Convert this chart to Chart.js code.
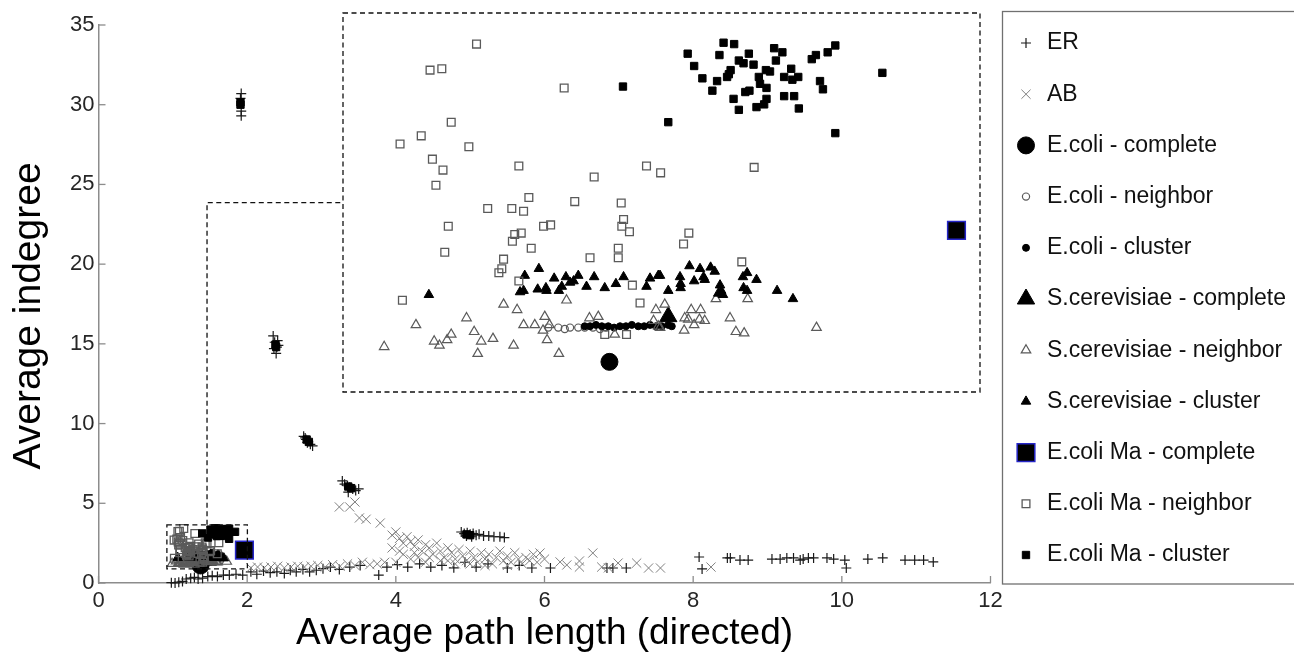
<!DOCTYPE html>
<html>
<head>
<meta charset="utf-8">
<script src="https://cdn.jsdelivr.net/npm/chart.js@4.4.1/dist/chart.umd.min.js"></script>
<style>
  html, body { margin:0; padding:0; background:#fff; }
  #wrap { position:relative; width:1294px; height:660px; overflow:hidden; }
  #main { position:absolute; left:0; top:0; }
  #inset { position:absolute; left:343px; top:13px; }
</style>
</head>
<body>
<div id="wrap">
  <canvas id="main" width="1294" height="660"></canvas>
  <canvas id="inset" width="637" height="379"></canvas>
</div>
<script>
const FONT = "'Liberation Sans', Arial, sans-serif";

const xTicks = [0, 2, 4, 6, 8, 10, 12];
const yTicks = [0, 5, 10, 15, 20, 25, 30, 35];
const yTitle = 'Average indegree';
const xTitle = 'Average path length (directed)';

// region that the inset enlarges
const zoomX = [0.92, 2.003];
const zoomY = [0.88, 3.647];
const connectX = 1.46;
const connectY = 23.86;

const seriesLabels = ['ER', 'AB', 'E.coli - complete', 'E.coli - neighbor', 'E.coli - cluster',
  'S.cerevisiae - complete', 'S.cerevisiae - neighbor', 'S.cerevisiae - cluster',
  'E.coli Ma - complete', 'E.coli Ma - neighbor', 'E.coli Ma - cluster'];

// [path length, indegree]
const erPts = [
  [1.92,30.7],[1.91,30.4],[1.92,29.6],[1.92,29.3],
  [2.35,15.5],[2.37,15.1],[2.40,14.8],[2.39,14.4],[2.42,14.9],[2.36,14.7],[2.41,15.2],
  [2.76,9.2],[2.79,9.0],[2.82,8.9],[2.85,8.7],[2.78,9.1],[2.88,8.6],[2.81,8.8],
  [3.28,6.4],[3.31,6.2],[3.35,6.1],[3.38,6.0],[3.42,5.9],[3.46,5.8],[3.50,5.9],[3.36,5.7],
  [4.88,3.2],[4.92,3.1],[4.96,3.15],[5.00,3.05],[5.04,3.1],[5.08,3.0],[5.12,3.05],[5.18,2.95],
  [5.25,2.95],[5.32,2.9],[5.40,2.9],[5.46,2.85],[4.95,2.95],[5.02,2.9],
  [0.98,0.02],[1.03,0.0],[1.08,0.05],[1.13,0.1],[1.18,0.25],[1.24,0.3],[1.29,0.35],[1.34,0.25],
  [1.40,0.3],[1.47,0.4],[1.53,0.45],[1.60,0.4],[1.68,0.5],[1.76,0.5],[1.85,0.55],[1.94,0.5],
  [2.05,0.7],[2.13,0.55],[2.22,0.75],[2.31,0.65],[2.40,0.7],[2.50,0.6],[2.58,0.8],[2.66,0.7],
  [2.75,0.85],[2.84,0.7],[2.93,0.8],[3.02,0.9],
  [3.12,1.0],[3.24,0.85],[3.38,1.0],[3.52,1.1],[3.77,0.5],[3.88,1.0],[4.02,1.15],[4.16,1.0],
  [4.32,1.2],[4.47,1.0],[4.62,1.1],[4.78,0.95],[4.93,1.3],[5.08,1.0],[5.24,1.2],
  [5.50,0.94],[5.66,1.1],[5.83,0.94],[6.08,0.94],[6.84,0.94],[6.92,0.94],[7.10,0.94],
  [8.08,1.63],[8.12,0.88],[8.46,1.57],[8.50,1.57],[8.63,1.44],[8.74,1.44],[9.06,1.5],[9.17,1.5],
  [9.26,1.57],[9.35,1.57],[9.44,1.44],[9.48,1.5],[9.55,1.57],[9.62,1.57],[9.80,1.57],[9.89,1.5],
  [10.04,1.44],[10.06,0.94],[10.35,1.5],[10.55,1.57],[10.85,1.44],[10.98,1.44],[11.10,1.44],[11.23,1.32]
];

const abPts = [
  [2.05,0.95],[2.14,1.0],[2.23,0.95],[2.32,1.0],[2.41,1.05],[2.50,0.95],[2.59,1.0],[2.68,1.05],
  [2.77,1.0],[2.86,1.05],[2.95,1.1],[3.05,1.0],[3.15,1.15],[3.25,1.05],[3.35,1.2],[3.45,1.1],
  [3.55,1.3],[3.65,1.15],[3.75,1.2],[3.85,1.3],
  [3.24,4.77],[3.38,4.77],[3.45,5.08],[3.51,4.08],[3.60,4.0],[3.79,3.76],
  [3.95,3.0],[4.00,3.2],[4.05,2.8],[4.10,2.5],[4.15,2.9],[4.20,2.6],[4.25,2.3],[4.30,2.7],
  [4.35,2.0],[4.40,2.4],[4.45,2.2],[4.50,1.8],[4.55,2.5],[4.60,2.0],[4.65,1.6],[4.70,2.2],
  [4.75,1.9],[4.80,1.5],[4.85,2.1],[4.90,1.7],[4.95,1.4],[5.00,2.0],[5.05,1.6],[5.10,1.3],
  [5.15,1.9],[5.20,1.5],[5.25,1.8],[5.30,1.2],[5.35,1.6],[5.40,2.0],[5.45,1.4],[5.50,1.7],
  [5.55,1.3],[5.60,1.9],[5.65,1.5],[5.70,1.2],[5.75,1.6],[5.80,1.4],[5.85,1.8],[5.90,1.3],
  [5.94,1.88],[6.00,1.5],[4.00,1.3],[4.20,1.5],[4.40,1.3],[4.60,1.4],[4.80,1.2],[3.95,2.2],
  [4.10,1.8],[4.30,1.6],[4.05,2.0],[4.25,1.9],[4.45,1.6],[4.70,1.4],[5.00,1.2],[5.20,1.1],[5.50,1.1],
  [6.21,1.32],[6.30,1.13],[6.47,1.38],[6.47,1.0],[6.65,1.88],[6.77,1.0],[6.86,0.95],[6.99,1.25],
  [7.24,1.25],[7.40,0.94],[7.56,0.94],[8.24,1.0]
];

const ecoliComplete = [[1.373,1.10]];
const ecoliNeighbor = [[1.269,1.35],[1.286,1.35],[1.297,1.34],[1.306,1.35],[1.320,1.35],
  [1.331,1.35],[1.345,1.35],[1.357,1.34],[1.367,1.35]];
const ecoliCluster = [[1.331,1.36],[1.340,1.36],[1.350,1.37],[1.360,1.36],[1.371,1.36],[1.381,1.35],
  [1.391,1.36],[1.401,1.36],[1.411,1.37],[1.422,1.36],[1.432,1.36],[1.442,1.37],[1.452,1.36],
  [1.462,1.36],[1.473,1.37],[1.479,1.36]];

const scerComplete = [[1.473,1.43]];
const scerNeighbor = [
  [0.990,1.21],[1.044,1.37],[1.075,1.25],[1.084,1.22],[1.097,1.26],[1.104,1.30],[1.130,1.42],
  [1.143,1.32],[1.155,1.25],[1.149,1.16],[1.175,1.27],[1.193,1.52],[1.210,1.22],[1.216,1.48],
  [1.227,1.37],[1.246,1.37],[1.260,1.33],[1.263,1.43],[1.267,1.26],[1.271,1.37],[1.287,1.16],
  [1.300,1.55],[1.339,1.42],[1.354,1.43],[1.382,1.30],[1.448,1.40],[1.452,1.48],[1.456,1.36],
  [1.467,1.52],[1.459,1.35],[1.500,1.33],[1.501,1.42],[1.512,1.48],[1.528,1.48],[1.507,1.41],
  [1.517,1.37],[1.526,1.41],[1.535,1.40],[1.554,1.56],[1.578,1.42],[1.588,1.32],[1.602,1.31],
  [1.608,1.56],[1.725,1.35]
];
const scerCluster = [
  [1.066,1.59],[1.229,1.73],[1.253,1.78],[1.221,1.61],[1.227,1.62],[1.251,1.63],[1.265,1.64],
  [1.266,1.62],[1.279,1.71],[1.287,1.62],[1.292,1.65],[1.299,1.72],[1.306,1.68],[1.312,1.69],
  [1.320,1.73],[1.334,1.65],[1.347,1.72],[1.365,1.64],[1.384,1.67],[1.397,1.72],[1.436,1.65],
  [1.442,1.71],[1.456,1.73],[1.473,1.62],[1.459,1.73],[1.493,1.72],[1.494,1.67],[1.494,1.64],
  [1.509,1.80],[1.517,1.69],[1.527,1.78],[1.533,1.72],[1.535,1.70],[1.545,1.79],[1.552,1.76],
  [1.561,1.66],[1.563,1.62],[1.558,1.60],[1.566,1.59],[1.600,1.72],[1.607,1.75],[1.601,1.64],
  [1.607,1.62],[1.623,1.70],[1.658,1.62],[1.685,1.56]
];

const maComplete = [[1.963,2.06]];
const maNeighbor = [
  [1.147,3.42],[1.068,3.23],[1.088,3.24],[1.296,3.10],[1.104,2.85],[1.053,2.75],[1.017,2.69],
  [1.134,2.67],[1.072,2.58],[1.090,2.50],[1.219,2.53],[1.347,2.45],[1.436,2.53],[1.460,2.48],
  [1.078,2.39],[1.236,2.30],[1.314,2.27],[1.393,2.26],[1.166,2.22],[1.207,2.22],[1.227,2.20],
  [1.099,2.09],[1.261,2.09],[1.273,2.10],[1.397,2.14],[1.394,2.09],[1.407,2.05],[1.212,2.03],
  [1.223,2.04],[1.208,1.98],[1.240,1.93],[1.093,1.90],[1.388,1.93],[1.388,1.86],[1.340,1.86],
  [1.193,1.85],[1.190,1.78],[1.185,1.75],[1.219,1.69],[1.412,1.66],[1.021,1.55],[1.425,1.53],
  [1.508,2.04],[1.499,1.96],[1.598,1.83],[1.619,2.52],[1.365,1.30],[1.402,1.30]
];
const maCluster = [
  [1.396,3.11],[1.473,2.85],[1.506,3.35],[1.567,3.43],[1.585,3.42],[1.517,3.26],[1.560,3.34],
  [1.531,3.17],[1.610,3.35],[1.593,3.30],[1.601,3.28],[1.618,3.27],[1.579,3.23],[1.576,3.20],
  [1.573,3.18],[1.556,3.15],[1.548,3.08],[1.627,3.18],[1.629,3.13],[1.640,3.10],[1.639,3.23],
  [1.646,3.22],[1.653,3.39],[1.667,3.36],[1.656,3.30],[1.682,3.24],[1.670,3.18],[1.684,3.16],
  [1.694,3.18],[1.604,3.07],[1.611,3.08],[1.584,3.02],[1.593,2.94],[1.640,3.02],[1.623,2.96],
  [1.636,2.98],[1.670,3.04],[1.687,3.04],[1.695,2.95],[1.717,3.31],[1.724,3.34],[1.744,3.36],
  [1.757,3.41],[1.731,3.15],[1.736,3.09],[1.837,3.21],[1.757,2.77],
  [1.91,30.0],[1.91,30.15],[2.38,14.95],[2.39,14.8],[2.80,9.0],[2.83,8.85],[3.36,6.05],
  [3.40,5.95],[4.95,3.05],[5.00,3.0]
];

const seriesData = [erPts, abPts, ecoliComplete, ecoliNeighbor, ecoliCluster,
  scerComplete, scerNeighbor, scerCluster, maComplete, maNeighbor, maCluster];

// marker look per series
const seriesStyle = [
  { shape: 'cross',    r: 5,   fill: '#1a1a1a', line: '#1a1a1a', w: 1.2 },
  { shape: 'crossRot', r: 6.5, fill: '#808080', line: '#808080', w: 1 },
  { shape: 'circle',   r: 8.5, fill: '#000',    line: '#000',    w: 1 },
  { shape: 'circle',   r: 3.6, fill: 'rgba(0,0,0,0)', line: '#5a5a5a', w: 1.2 },
  { shape: 'circle',   r: 3.5, fill: '#000',    line: '#000',    w: 1 },
  { shape: 'triangle', r: 10,  fill: '#000',    line: '#000',    w: 1 },
  { shape: 'triangle', r: 5.5, fill: 'rgba(0,0,0,0)', line: '#5a5a5a', w: 1.2 },
  { shape: 'triangle', r: 5.5, fill: '#000',    line: '#000',    w: 1 },
  { shape: 'rect',     r: 12.5, fill: '#000',   line: '#2626c8', w: 1.5 },
  { shape: 'rect',     r: 5.5, fill: 'rgba(0,0,0,0)', line: '#5a5a5a', w: 1.3 },
  { shape: 'rect',     r: 5.2, fill: '#000',    line: '#000',    w: 1 }
];

const makeDataset = (i) => ({
  label: seriesLabels[i],
  data: seriesData[i].map(p => ({ x: p[0], y: p[1] })),
  pointStyle: seriesStyle[i].shape,
  pointRadius: seriesStyle[i].r,
  backgroundColor: seriesStyle[i].fill,
  borderColor: seriesStyle[i].line,
  pointBorderWidth: seriesStyle[i].w,
  order: 20 - i,
  clip: false
});

const INSET = { left: 343, top: 13, width: 637, height: 379 };

const decor = {
  id: 'decor',
  afterDraw(chart) {
    const ctx = chart.ctx, xs = chart.scales.x, ys = chart.scales.y;
    ctx.save();
    // ticks pointing inward
    ctx.strokeStyle = '#8c8c8c';
    ctx.lineWidth = 1.3;
    xTicks.forEach(v => {
      const p = xs.getPixelForValue(v);
      ctx.beginPath(); ctx.moveTo(p, ys.bottom); ctx.lineTo(p, ys.bottom - 7); ctx.stroke();
    });
    yTicks.forEach(v => {
      const p = ys.getPixelForValue(v);
      ctx.beginPath(); ctx.moveTo(xs.left, p); ctx.lineTo(xs.left + 7, p); ctx.stroke();
    });

    // y axis title, a little below the middle of the axis as in the original
    ctx.save();
    ctx.translate(29, 316);
    ctx.rotate(-Math.PI / 2);
    ctx.fillStyle = '#000';
    ctx.font = '39px ' + FONT;
    ctx.textAlign = 'center';
    ctx.textBaseline = 'middle';
    ctx.fillText(yTitle, 0, 0);
    ctx.restore();

    // zoom box, connector and inset frame
    ctx.strokeStyle = '#111';
    ctx.lineWidth = 1.3;
    ctx.setLineDash([5, 3.5]);
    const bx0 = xs.getPixelForValue(zoomX[0]), bx1 = xs.getPixelForValue(zoomX[1]);
    const by0 = ys.getPixelForValue(zoomY[1]), by1 = ys.getPixelForValue(zoomY[0]);
    ctx.strokeRect(bx0, by0, bx1 - bx0, by1 - by0);
    const cx = xs.getPixelForValue(connectX), cy = ys.getPixelForValue(connectY);
    ctx.beginPath();
    ctx.moveTo(cx, by0); ctx.lineTo(cx, cy); ctx.lineTo(INSET.left, cy);
    ctx.stroke();
    ctx.strokeRect(INSET.left, INSET.top, INSET.width, INSET.height);
    ctx.setLineDash([]);

    // legend
    ctx.strokeStyle = '#707070';
    ctx.lineWidth = 1.3;
    ctx.strokeRect(1002.5, 11.5, 330, 572.5);
    chart.data.datasets.forEach((ds, i) => {
      const y = 43 + i * 51.2;
      const st = seriesStyle[i];
      ctx.fillStyle = st.fill;
      ctx.strokeStyle = st.line;
      ctx.lineWidth = st.w;
      Chart.helpers.drawPoint(ctx, { pointStyle: st.shape, radius: st.r, rotation: 0, borderWidth: st.w }, 1026, y);
      ctx.fillStyle = '#111';
      ctx.font = '23px ' + FONT;
      ctx.textAlign = 'left';
      ctx.textBaseline = 'middle';
      ctx.fillText(ds.label, 1047, y);
    });
    ctx.restore();
  }
};

new Chart(document.getElementById('main'), {
  type: 'scatter',
  data: { datasets: seriesLabels.map((l, i) => makeDataset(i)) },
  options: {
    responsive: false,
    animation: false,
    events: [],
    layout: { autoPadding: false, padding: { top: 25, right: 303.5, left: 0, bottom: 0 } },
    plugins: { legend: { display: false }, tooltip: { enabled: false } },
    scales: {
      x: {
        type: 'linear', min: 0, max: 12,
        grid: { display: false, drawTicks: false, tickLength: 0 },
        border: { display: true, color: '#8c8c8c', width: 1.5 },
        ticks: { stepSize: 2, autoSkip: false, maxRotation: 0, padding: 5, color: '#262626',
                 font: { size: 22, family: FONT } },
        title: { display: true, text: xTitle, color: '#000',
                 font: { size: 37, family: FONT }, padding: { top: 0, bottom: 4 } },
        afterFit(scale) { scale.height = 77; }
      },
      y: {
        type: 'linear', min: 0, max: 35,
        grid: { display: false, drawTicks: false, tickLength: 0 },
        border: { display: true, color: '#8c8c8c', width: 1.5 },
        ticks: { stepSize: 5, autoSkip: false, padding: 4, color: '#262626',
                 font: { size: 22, family: FONT } },
        afterFit(scale) { scale.width = 98.5; }
      }
    }
  },
  plugins: [decor]
});

// enlarged view of the zoom box
new Chart(document.getElementById('inset'), {
  type: 'scatter',
  data: { datasets: [2, 3, 4, 5, 6, 7, 8, 9, 10].map(makeDataset) },
  options: {
    responsive: false,
    animation: false,
    events: [],
    layout: { autoPadding: false, padding: 0 },
    plugins: { legend: { display: false }, tooltip: { enabled: false } },
    scales: {
      x: { type: 'linear', display: false, min: zoomX[0], max: zoomX[1] },
      y: { type: 'linear', display: false, min: zoomY[0], max: zoomY[1] }
    }
  }
});
</script>
</body>
</html>
